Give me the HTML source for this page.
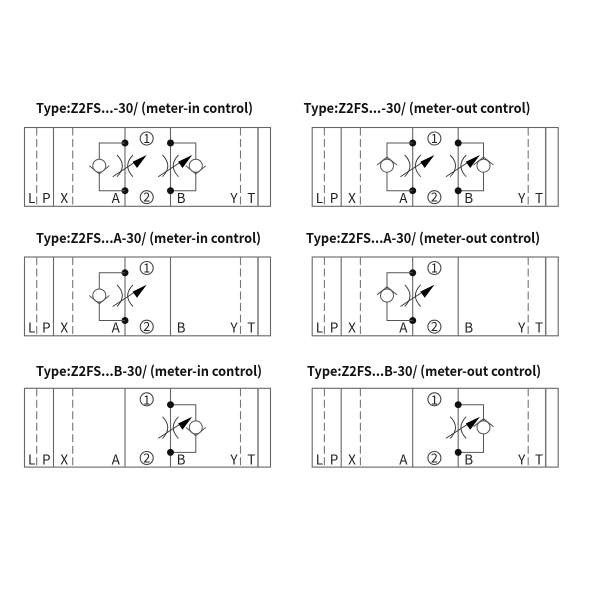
<!DOCTYPE html>
<html>
<head>
<meta charset="utf-8">
<style>
html,body{margin:0;padding:0;background:#fff;width:600px;height:600px;overflow:hidden}
svg{display:block}
.t{font-family:"Noto Sans CJK SC","Liberation Sans",sans-serif;font-weight:700;font-size:13.5px;fill:#111}
.l{font-family:"Noto Sans CJK SC","Liberation Sans",sans-serif;font-size:13.5px;fill:#222;text-anchor:middle}
.n{font-family:"Noto Sans CJK SC","Liberation Sans",sans-serif;font-size:12.5px;fill:#222;text-anchor:middle}
</style>
</head>
<body>
<svg width="600" height="600" viewBox="0 0 600 600" xmlns="http://www.w3.org/2000/svg">
<defs>
  <g id="frame" fill="none" stroke="#666" stroke-width="1.1">
    <rect x="0" y="0" width="246" height="78.8"/>
    <path d="M29 0V78.8M100.5 0V78.8M146 0V78.8"/>
    <path d="M233.5 0V78.8" stroke-width="1.5" stroke="#777"/>
    <path d="M12.2 0V78.8M48.2 0V78.8M216 0V78.8" stroke-dasharray="8 3.5" stroke="#777"/>
    <circle cx="122.2" cy="11" r="6.5" stroke="#444"/>
    <circle cx="122.2" cy="69.7" r="6.5" stroke="#444"/>
  </g>
  <g id="thr" fill="none" stroke="#333" stroke-width="0.9">
    <path d="M-8 12Q2.6 22.8 -8 33.7"/>
    <path d="M8 12Q-2.6 22.8 8 33.7"/>
    <path d="M-12.3 33.7L14 16.5"/>
    <path d="M21.7 12L7.6 18.8L12 25Z" fill="#000" stroke="none"/>
    <circle cx="0" cy="0" r="3.5" fill="#111" stroke="none"/>
    <circle cx="0" cy="47.7" r="3.5" fill="#111" stroke="none"/>
  </g>
  <g id="inL" fill="none" stroke="#555" stroke-width="1">
    <use href="#thr"/>
    <path d="M0 0H-25.7V47.7H0"/>
    <circle cx="-25.7" cy="22.7" r="6.5" fill="#fff"/>
    <path d="M-35.7 22.7L-25.7 31L-15.7 22.7"/>
  </g>
  <g id="outL" fill="none" stroke="#555" stroke-width="1">
    <use href="#thr"/>
    <path d="M0 0H-25.7V47.7H0"/>
    <circle cx="-25.7" cy="22.7" r="6.5" fill="#fff"/>
    <path d="M-35.7 22L-25.7 14L-15.7 22"/>
  </g>
  <g id="inR" fill="none" stroke="#555" stroke-width="1">
    <path d="M0 0H25.3V47.7H0"/>
    <use href="#thr"/>
    <circle cx="25.3" cy="22.7" r="6.5" fill="#fff"/>
    <path d="M15.3 22.7L25.3 31L35.3 22.7"/>
  </g>
  <g id="outR" fill="none" stroke="#555" stroke-width="1">
    <path d="M0 0H25.3V47.7H0"/>
    <use href="#thr"/>
    <circle cx="25.3" cy="22.7" r="6.5" fill="#fff"/>
    <path d="M15.3 22L25.3 14L35.3 22"/>
  </g>
</defs>

<!-- Titles -->
<text class="t" x="36" y="113" textLength="217" lengthAdjust="spacingAndGlyphs">Type:Z2FS...-30/ (meter-in control)</text>
<text class="t" x="303.5" y="113" textLength="227" lengthAdjust="spacingAndGlyphs">Type:Z2FS...-30/ (meter-out control)</text>
<text class="t" x="36" y="243" textLength="225" lengthAdjust="spacingAndGlyphs">Type:Z2FS...A-30/ (meter-in control)</text>
<text class="t" x="306" y="243" textLength="234" lengthAdjust="spacingAndGlyphs">Type:Z2FS...A-30/ (meter-out control)</text>
<text class="t" x="36" y="376" textLength="226" lengthAdjust="spacingAndGlyphs">Type:Z2FS...B-30/ (meter-in control)</text>
<text class="t" x="307" y="376" textLength="234" lengthAdjust="spacingAndGlyphs">Type:Z2FS...B-30/ (meter-out control)</text>

<!-- Row 1 left -->
<g transform="translate(24.5,127.5)">
  <use href="#frame"/>
  <text class="n" x="122.2" y="15.4">1</text><text class="n" x="122.2" y="74.1">2</text>
  <text class="l" x="7.2" y="75.4">L</text><text class="l" x="21.8" y="75.4">P</text><text class="l" x="39.8" y="75.4">X</text><text class="l" x="91.2" y="75.4">A</text><text class="l" x="156.5" y="75.4">B</text><text class="l" x="209.5" y="75.4">Y</text><text class="l" x="226.8" y="75.4">T</text>
</g>
<use href="#inL" x="125" y="143"/>
<use href="#inR" x="170.5" y="143"/>

<!-- Row 1 right -->
<g transform="translate(312.2,127.5)">
  <use href="#frame"/>
  <text class="n" x="122.2" y="15.4">1</text><text class="n" x="122.2" y="74.1">2</text>
  <text class="l" x="7.2" y="75.4">L</text><text class="l" x="21.8" y="75.4">P</text><text class="l" x="39.8" y="75.4">X</text><text class="l" x="91.2" y="75.4">A</text><text class="l" x="156.5" y="75.4">B</text><text class="l" x="209.5" y="75.4">Y</text><text class="l" x="226.8" y="75.4">T</text>
</g>
<use href="#outL" x="412.7" y="143"/>
<use href="#outR" x="458.2" y="143"/>

<!-- Row 2 left -->
<g transform="translate(24.5,257)">
  <use href="#frame"/>
  <text class="n" x="122.2" y="15.4">1</text><text class="n" x="122.2" y="74.1">2</text>
  <text class="l" x="7.2" y="75.7">L</text><text class="l" x="21.8" y="75.7">P</text><text class="l" x="39.8" y="75.7">X</text><text class="l" x="91.2" y="75.7">A</text><text class="l" x="156.5" y="75.7">B</text><text class="l" x="209.5" y="75.7">Y</text><text class="l" x="226.8" y="75.7">T</text>
</g>
<use href="#inL" x="125" y="272.8"/>

<!-- Row 2 right -->
<g transform="translate(312.2,257)">
  <use href="#frame"/>
  <text class="n" x="122.2" y="15.4">1</text><text class="n" x="122.2" y="74.1">2</text>
  <text class="l" x="7.2" y="75.7">L</text><text class="l" x="21.8" y="75.7">P</text><text class="l" x="39.8" y="75.7">X</text><text class="l" x="91.2" y="75.7">A</text><text class="l" x="156.5" y="75.7">B</text><text class="l" x="209.5" y="75.7">Y</text><text class="l" x="226.8" y="75.7">T</text>
</g>
<use href="#outL" x="412.7" y="272.8"/>

<!-- Row 3 left -->
<g transform="translate(24.5,388.3)">
  <use href="#frame"/>
  <text class="n" x="122.2" y="16">1</text><text class="n" x="122.2" y="74.1">2</text>
  <text class="l" x="7.2" y="76">L</text><text class="l" x="21.8" y="76">P</text><text class="l" x="39.8" y="76">X</text><text class="l" x="91.2" y="76">A</text><text class="l" x="156.5" y="76">B</text><text class="l" x="209.5" y="76">Y</text><text class="l" x="226.8" y="76">T</text>
</g>
<use href="#inR" x="170.5" y="404.7"/>

<!-- Row 3 right -->
<g transform="translate(312.2,388.3)">
  <use href="#frame"/>
  <text class="n" x="122.2" y="16">1</text><text class="n" x="122.2" y="74.1">2</text>
  <text class="l" x="7.2" y="76">L</text><text class="l" x="21.8" y="76">P</text><text class="l" x="39.8" y="76">X</text><text class="l" x="91.2" y="76">A</text><text class="l" x="156.5" y="76">B</text><text class="l" x="209.5" y="76">Y</text><text class="l" x="226.8" y="76">T</text>
</g>
<use href="#outR" x="458.2" y="404.7"/>
</svg>
</body>
</html>
